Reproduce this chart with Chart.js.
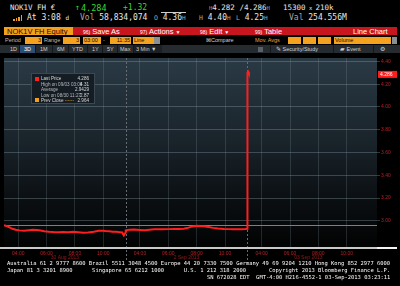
<!DOCTYPE html>
<html>
<head>
<meta charset="utf-8">
<script src="https://cdn.jsdelivr.net/npm/chart.js@4.4.0/dist/chart.umd.min.js"></script>
<style>
  html, body { margin: 0; padding: 0; background: #000; }
  #page { position: relative; width: 400px; height: 286px; overflow: hidden; background: #000;
          font-family: 'Liberation Sans', Arial, sans-serif; }
  .a { position: absolute; white-space: pre; line-height: 1; }
  .m { font-family: 'DejaVu Sans Mono', monospace; font-size: 8px; color: #e8e8e8; }
  .g { color: #35d835; }
  .sm { font-size: 5.5px; color: #bdbdbd; }
  .gr { color: #a8a8a8; }
  .box { position: absolute; background: #f5a31f; color: #1a0d00; font-size: 5.5px; line-height: 7px;
         height: 7px; box-sizing: border-box; padding: 0 1px; }
  .tb { font-size: 5.5px; color: #cfcfcf; top: 46.5px; }
  .sep { position: absolute; top: 45px; width: 1px; height: 8px; background: #15181b; }
  .foot { font-family: 'DejaVu Sans Mono', monospace; font-size: 5.45px; color: #fff; left: 7px; }
  #legend { position: absolute; left: 31px; top: 73px; width: 64px; height: 31px; box-sizing: border-box;
            background: rgba(20, 28, 34, 0.93); border: 1px solid #3b4852; font-size: 4.6px; color: #d8d8d8; }
  #legend div { position: absolute; left: 9px; white-space: pre; line-height: 1; }
  #legend .v { left: auto; right: 5px; }
</style>
</head>
<body>
<div id="page">
  <!-- header row 1 -->
  <div class="a m" style="left:10px; top:4px; font-size:7.5px;">NOK1V FH €</div>
  <div class="a m g" style="left:75px; top:4px;">↑</div>
  <div class="a m g" style="left:81px; top:4px; font-size:8.5px;">4.284</div>
  <div class="a m g" style="left:123px; top:4px;">+1.32</div>
  <div class="a m" style="left:209px; top:4px; font-size:7.5px;"><span class="gr" style="font-size:5.5px">H</span>4.282 /4.286<span class="gr" style="font-size:5.5px">H</span></div>
  <div class="a m" style="left:283px; top:4px; font-size:7.5px;">15300<span style="font-size:5.5px"> x </span>210k</div>

  <!-- header row 2 -->
  <div class="a" style="left:13px; top:19px; width:1.5px; height:2px; background:#f0a020;"></div>
  <div class="a" style="left:15.5px; top:18px; width:1.5px; height:3px; background:#f0a020;"></div>
  <div class="a" style="left:18px; top:16.5px; width:1.5px; height:4.5px; background:#f0a020;"></div>
  <div class="a" style="left:20.5px; top:15px; width:1.5px; height:6px; background:#f0a020;"></div>
  <div class="a m" style="left:27px; top:14px;">At 3:08 <span style="font-size:6px">d</span></div>
  <div class="a m" style="left:80px; top:14px;"><span class="gr">Vol</span> 58,834,074</div>
  <div class="a" style="left:161px; top:12px; width:25px; height:1px; background:#cfcfcf;"></div>
  <div class="a m" style="left:154px; top:14px;"><span class="gr" style="font-size:6.5px">O</span> 4.36<span class="gr" style="font-size:6px">H</span></div>
  <div class="a m" style="left:199px; top:14px;"><span class="gr" style="font-size:6.5px">H</span> 4.40<span class="gr" style="font-size:6px">H</span></div>
  <div class="a m" style="left:236px; top:14px;"><span class="gr" style="font-size:6.5px">L</span> 4.25<span class="gr" style="font-size:6px">H</span></div>
  <div class="a m" style="left:289px; top:14px;"><span class="gr">Val</span> 254.556M</div>

  <!-- row 3: security + red menu bar -->
  <div class="a" style="left:4px; top:27px; width:69px; height:8px; background:#f2a11f;"></div>
  <div class="a" style="left:7px; top:27.5px; font-size:7.5px; color:#1a0c00;">NOK1V FH Equity</div>
  <div class="a" style="left:73px; top:27px; width:324px; height:8px; background:#c8161f;"></div>
  <div class="a" style="left:83px; top:27.5px; font-size:7.5px; color:#fff;"><span style="font-size:5px">96)</span> Save As</div>
  <div class="a" style="left:140px; top:27.5px; font-size:7.5px; color:#fff;"><span style="font-size:5px">97)</span> Actions <span style="font-size:5px">▼</span></div>
  <div class="a" style="left:200px; top:27.5px; font-size:7.5px; color:#fff;"><span style="font-size:5px">98)</span> Edit <span style="font-size:5px">▼</span></div>
  <div class="a" style="left:255px; top:27.5px; font-size:7.5px; color:#fff;"><span style="font-size:5px">99)</span> Table</div>
  <div class="a" style="left:353px; top:27.5px; font-size:7.5px; color:#fff;">Line Chart</div>

  <!-- row 4: period / range -->
  <div class="a sm" style="left:5px; top:37.5px;">Period</div>
  <div class="box" style="left:25px; top:36.5px; width:17px; text-align:right;">3</div>
  <div class="a sm" style="left:44px; top:37.5px;">Range</div>
  <div class="box" style="left:63px; top:36.5px; width:17px; text-align:right;">3</div>
  <div class="box" style="left:83px; top:36.5px; width:18px;">03:00</div>
  <div class="a sm" style="left:103px; top:37.5px;">-</div>
  <div class="box" style="left:110px; top:36.5px; width:21px; text-align:right;">11:35</div>
  <div class="box" style="left:133px; top:36.5px; width:21px;">Line</div>
  <div class="a" style="left:154px; top:36.5px; width:6px; height:7px; background:#8a8f94;"></div>
  <div class="a sm" style="left:206px; top:37.5px; color:#d0d0d0;">⊠Compare</div>
  <div class="a sm" style="left:255px; top:37.5px; color:#e6a44a;">Mov. Avgs</div>
  <div class="box" style="left:288px; top:36.5px; width:13px;"></div>
  <div class="box" style="left:303px; top:36.5px; width:13px;"></div>
  <div class="box" style="left:318px; top:36.5px; width:13px;"></div>
  <div class="box" style="left:334px; top:36.5px; width:57px;">Volume</div>
  <div class="a" style="left:392px; top:36.5px; width:5px; height:7px; background:#8a8f94;"></div>

  <!-- row 5: toolbar -->
  <div class="a" style="left:0; top:45px; width:400px; height:8px; background:#262b30;"></div>
  <div class="a" style="left:20px; top:45px; width:15px; height:8px; background:#2c4f73;"></div>
  <div class="a" style="left:134px; top:45px; width:28px; height:8px; background:#1c2024;"></div>
  <div class="sep" style="left:19px"></div><div class="sep" style="left:35px"></div>
  <div class="sep" style="left:52px"></div><div class="sep" style="left:68px"></div>
  <div class="sep" style="left:87px"></div><div class="sep" style="left:102px"></div>
  <div class="sep" style="left:117px"></div><div class="sep" style="left:133px"></div>
  <div class="sep" style="left:270px"></div><div class="sep" style="left:333px"></div>
  <div class="sep" style="left:373px"></div>
  <div class="a tb" style="left:10px;">1D</div>
  <div class="a tb" style="left:24px; color:#fff;">3D</div>
  <div class="a tb" style="left:40px;">1M</div>
  <div class="a tb" style="left:57px;">6M</div>
  <div class="a tb" style="left:72px;">YTD</div>
  <div class="a tb" style="left:92px;">1Y</div>
  <div class="a tb" style="left:107px;">5Y</div>
  <div class="a tb" style="left:120px;">Max</div>
  <div class="a tb" style="left:136px;">3 Min ▼</div>
  <div class="a" style="left:258px; top:46.5px; width:5px; height:5px; background:#5a6068;"></div>
  <div class="a tb" style="left:276px;">✎ Security/Study</div>
  <div class="a tb" style="left:340px;">▰ Event</div>
  <div class="a tb" style="left:380px;">⚙</div>

  <!-- chart -->
  <canvas id="bbgChart" width="400" height="208" style="position:absolute; left:0; top:54px;"></canvas>
  <div class="a" style="left:0; top:247px; width:377px; height:2px; background:#c9c9c9;"></div>
  <div class="a" style="left:377px; top:247px; width:20px; height:2px; background:#f4f4f4;"></div>

  <!-- legend -->
  <div id="legend">
    <span style="position:absolute; left:3px; top:3px; width:4px; height:4px; background:#ff2020;"></span>
    <span style="position:absolute; left:3px; top:24px; width:4px; height:4px; background:#f0a020;"></span>
    <div style="top:3px;">Last Price</div><div class="v" style="top:3px;">4.286</div>
    <div style="top:8.5px; color:#b8b8b8;">High on 09/03 03:08</div><div class="v" style="top:8.5px;">4.31</div>
    <div style="top:14px; color:#b8b8b8;">Average</div><div class="v" style="top:14px;">2.9429</div>
    <div style="top:19.5px; color:#b8b8b8;">Low on 08/30 11:27</div><div class="v" style="top:19.5px;">2.87</div>
    <div style="top:24.5px;">Prev Close <span style="color:#f0a020">------</span></div><div class="v" style="top:24.5px;">2.964</div>
  </div>

  <!-- footer -->
  <div class="a foot" style="top:261px;">Australia 61 2 9777 8600 Brazil 5511 3048 4500 Europe 44 20 7330 7500 Germany 49 69 9204 1210 Hong Kong 852 2977 6000</div>
  <div class="a foot" style="top:268px;">Japan 81 3 3201 8900      Singapore 65 6212 1000      U.S. 1 212 318 2000       Copyright 2013 Bloomberg Finance L.P.</div>
  <div class="a foot" style="top:275px; left:207px;">SN 672028 EDT  GMT-4:00 H216-4552-1 03-Sep-2013 03:23:11</div>
</div>

<script>
'use strict'
{
  const DAYS = ['30 Aug 2013', '2 Sep 2013', '03 Sep 2013'];
  const DAY_HOURS = 8 + 35 / 60;   // session 03:00 - 11:35
  const X_MAX_HOURS = 26.3;

  const aug30Times = ['03:00', '03:10', '03:20', '03:35', '03:50', '04:05', '04:25', '04:45', '05:00', '05:20',
                      '05:35', '05:50', '06:10', '06:30', '06:50', '07:10', '07:30', '07:55', '08:15', '08:35',
                      '08:55', '09:20', '09:40', '10:00', '10:10', '10:25', '10:40', '10:55', '11:10', '11:20',
                      '11:27', '11:35'];
  const aug30Prices = [2.962, 2.955, 2.946, 2.930, 2.921, 2.916, 2.912, 2.918, 2.921, 2.919,
                       2.915, 2.908, 2.904, 2.901, 2.899, 2.902, 2.900, 2.903, 2.899, 2.895,
                       2.898, 2.904, 2.912, 2.913, 2.911, 2.909, 2.905, 2.903, 2.900, 2.898,
                       2.872, 2.900];

  const sep02Times = ['03:00', '03:15', '03:35', '04:00', '04:20', '04:40', '05:00', '05:20', '05:40', '06:00',
                      '06:25', '06:45', '07:05', '07:20', '07:35', '07:50', '08:00', '08:15', '08:30', '08:50',
                      '09:10', '09:30', '09:55', '10:15', '10:35', '10:55', '11:10', '11:25', '11:35'];
  const sep02Prices = [2.917, 2.921, 2.923, 2.920, 2.917, 2.921, 2.925, 2.926, 2.925, 2.927,
                       2.929, 2.928, 2.930, 2.936, 2.947, 2.953, 2.956, 2.954, 2.953, 2.946,
                       2.938, 2.933, 2.929, 2.927, 2.925, 2.926, 2.925, 2.927, 2.930];

  const sep03Times = ['03:00', '03:03', '03:06', '03:08'];
  const sep03Prices = [4.300, 4.310, 4.295, 4.286];

  const tickTimes = ['04:00', '06:00', '08:00', '10:00'];
  const yTicks = [3.00, 3.20, 3.40, 3.60, 3.80, 4.00, 4.20, 4.40];
  const lastPrice = 4.286;
  const prevClose = 2.964;

  function hoursAfterOpen(t) {
    const [hh, mm] = t.split(':').map(Number);
    return (hh * 60 + mm - 180) / 60;
  }

  const sessions = [[aug30Times, aug30Prices], [sep02Times, sep02Prices], [sep03Times, sep03Prices]];
  const points = [];
  sessions.forEach(([times, prices], d) => {
    times.forEach((t, i) => points.push({ x: d * DAY_HOURS + hoursAfterOpen(t), y: prices[i] }));
  });

  const xTicks = [];
  DAYS.forEach((day, d) => {
    tickTimes.forEach(t => {
      const v = d * DAY_HOURS + hoursAfterOpen(t);
      if (v <= X_MAX_HOURS) xTicks.push({ value: v, label: t });
    });
  });

  const bloombergPlot = {
    id: 'bloombergPlot',
    beforeDraw(chart) {
      const { ctx, chartArea: a } = chart;
      const g = ctx.createLinearGradient(0, a.top, 0, a.bottom);
      g.addColorStop(0, '#2a3a45');
      g.addColorStop(0.45, '#19232a');
      g.addColorStop(0.75, '#0b0f12');
      g.addColorStop(1, '#020303');
      ctx.save();
      ctx.fillStyle = g;
      ctx.fillRect(a.left, a.top, a.right - a.left, a.bottom - a.top);
      ctx.restore();
    },
    beforeDatasetsDraw(chart) {
      const { ctx, chartArea: a, scales: { x, y } } = chart;
      ctx.save();
      // previous close
      const yp = Math.round(y.getPixelForValue(prevClose)) + 0.5;
      ctx.strokeStyle = '#b8722c';
      ctx.lineWidth = 1;
      ctx.beginPath();
      ctx.moveTo(a.left, yp);
      ctx.lineTo(a.right, yp);
      ctx.stroke();
      // day separators
      ctx.strokeStyle = '#666d72';
      ctx.setLineDash([2, 2]);
      for (let d = 1; d < DAYS.length; d++) {
        const xp = Math.round(x.getPixelForValue(d * DAY_HOURS)) + 0.5;
        ctx.beginPath();
        ctx.moveTo(xp, a.top);
        ctx.lineTo(xp, a.bottom + 14);
        ctx.stroke();
      }
      ctx.restore();
    },
    afterDraw(chart) {
      const { ctx, chartArea: a, scales: { x, y } } = chart;
      ctx.save();
      // last price tag
      const yl = y.getPixelForValue(lastPrice);
      ctx.fillStyle = '#ff1c1c';
      ctx.fillRect(a.right + 1, yl - 3.5, 19, 7);
      ctx.fillStyle = '#fff';
      ctx.font = '5px "Liberation Sans"';
      ctx.textBaseline = 'middle';
      ctx.textAlign = 'left';
      ctx.fillText(lastPrice.toFixed(3), a.right + 3, yl + 0.3);
      // date labels
      ctx.fillStyle = '#8e1c1c';
      ctx.textAlign = 'center';
      ctx.font = '5px "Liberation Sans"';
      DAYS.forEach((day, d) => {
        const xc = x.getPixelForValue(d * DAY_HOURS + DAY_HOURS / 2);
        ctx.fillText(day, Math.min(xc, a.right - 14), a.bottom + 11);
      });
      ctx.restore();
    },
  };

  const ctx = document.getElementById('bbgChart').getContext('2d');
  const myChart = new Chart(ctx, {
    type: 'line',
    data: {
      datasets: [{
        data: points,
        borderColor: '#ff1e1e',
        borderWidth: 2,
        pointRadius: 0,
        tension: 0,
        fill: false,
      }],
    },
    options: {
      responsive: false,
      maintainAspectRatio: false,
      animation: false,
      layout: { padding: { left: 4, top: 0, right: 0, bottom: 0 } },
      plugins: {
        legend: { display: false },
        tooltip: { enabled: false },
      },
      scales: {
        x: {
          type: 'linear',
          min: 0,
          max: X_MAX_HOURS,
          afterBuildTicks: (s) => { s.ticks = xTicks.map(t => ({ value: t.value })); },
          afterFit: (s) => { s.height = 15; },
          ticks: {
            autoSkip: false,
            maxRotation: 0,
            padding: 2,
            color: '#b42224',
            font: { family: 'Liberation Sans', size: 5 },
            callback: (v, i) => xTicks[i] ? xTicks[i].label : '',
          },
          grid: { color: 'rgba(140,160,170,0.22)', tickLength: 2 },
          border: { display: false },
        },
        y: {
          position: 'right',
          min: 2.77,
          max: 4.43,
          afterBuildTicks: (s) => { s.ticks = yTicks.map(v => ({ value: v })); },
          afterFit: (s) => { s.width = 23; },
          ticks: {
            padding: 1,
            color: '#b42224',
            font: { family: 'Liberation Sans', size: 5 },
            callback: (v) => v.toFixed(2),
          },
          grid: { color: 'rgba(140,160,170,0.35)', tickLength: 3 },
          border: { display: false },
        },
      },
    },
    plugins: [bloombergPlot],
  });
  myChart;
}
</script>
</body>
</html>
